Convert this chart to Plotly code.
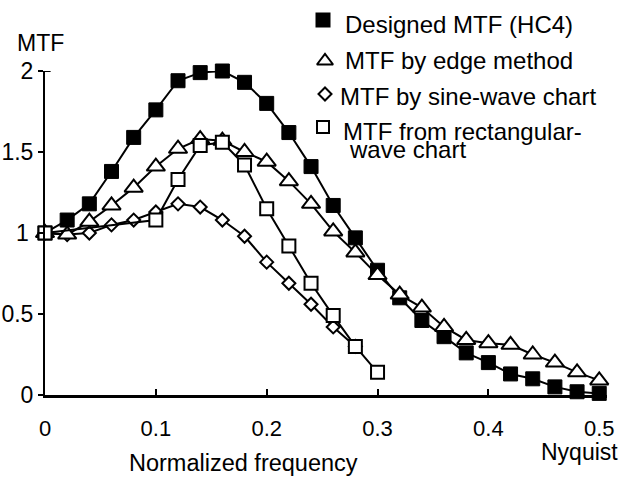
import plotly.graph_objects as go

# ---------------- data ----------------
freq_all = [0.00, 0.02, 0.04, 0.06, 0.08, 0.10, 0.12, 0.14, 0.16, 0.18, 0.20, 0.22, 0.24,
            0.26, 0.28, 0.30, 0.32, 0.34, 0.36, 0.38, 0.40, 0.42, 0.44, 0.46, 0.48, 0.50]
designed_mtf = [1.00, 1.08, 1.18, 1.38, 1.59, 1.76, 1.94, 1.99, 2.00, 1.93, 1.80, 1.62, 1.41,
                1.17, 0.97, 0.77, 0.60, 0.46, 0.36, 0.26, 0.20, 0.13, 0.10, 0.05, 0.02, 0.01]
edge_mtf = [1.00, 0.99, 1.07, 1.17, 1.28, 1.41, 1.52, 1.58, 1.57, 1.50, 1.44, 1.32, 1.18,
            1.01, 0.88, 0.74, 0.62, 0.54, 0.42, 0.34, 0.32, 0.31, 0.25, 0.20, 0.14, 0.09]
freq_sine = [0.00, 0.02, 0.04, 0.06, 0.08, 0.10, 0.12, 0.14, 0.16, 0.18, 0.20, 0.22, 0.24, 0.26, 0.28]
sine_mtf = [1.00, 0.99, 1.00, 1.05, 1.08, 1.13, 1.18, 1.16, 1.08, 0.98, 0.82, 0.69, 0.56, 0.42, 0.30]
freq_rect = [0.00, 0.10, 0.12, 0.14, 0.16, 0.18, 0.20, 0.22, 0.24, 0.26, 0.28, 0.30]
rect_mtf = [1.00, 1.08, 1.33, 1.54, 1.56, 1.42, 1.15, 0.92, 0.69, 0.49, 0.30, 0.14]

x_tickvals = [0, 0.1, 0.2, 0.3, 0.4, 0.5]
x_ticktext = ["0", "0.1", "0.2", "0.3", "0.4", "0.5"]
y_tickvals = [0, 0.5, 1, 1.5, 2]
y_ticktext = ["0", "0.5", "1\u2009", "1.5", "2"]

legend_names = ["Designed MTF (HC4)", "MTF by edge method", "MTF by sine-wave chart",
                "MTF from rectangular-", "wave chart"]

# ---------------- figure ----------------
W, H = 621, 479
FONT = "Liberation Sans, Arial, sans-serif"

def px(x):
    return x / W

def py(y):
    return 1 - y / H

fig = go.Figure()

line_style = dict(color="black", width=2)

fig.add_trace(go.Scatter(
    x=freq_all, y=designed_mtf, mode="lines+markers", line=line_style, cliponaxis=False,
    marker=dict(symbol="square", size=14, color="black", line=dict(color="black", width=1)),
    showlegend=False))
fig.add_trace(go.Scatter(
    x=freq_sine, y=sine_mtf, mode="lines+markers", line=line_style, cliponaxis=False,
    marker=dict(symbol="diamond", size=10, color="white", line=dict(color="black", width=2)),
    showlegend=False))
fig.add_trace(go.Scatter(
    x=freq_all, y=edge_mtf, mode="lines+markers", line=line_style, cliponaxis=False,
    marker=dict(symbol="triangle-up", size=16, color="white", line=dict(color="black", width=2)),
    showlegend=False))
fig.add_trace(go.Scatter(
    x=freq_rect, y=rect_mtf, mode="lines+markers", line=line_style, cliponaxis=False,
    marker=dict(symbol="square", size=13, color="white", line=dict(color="black", width=2)),
    showlegend=False))

# manual legend markers on a pixel-coordinate helper axis
leg_x = [323, 325, 325, 323]
leg_y = [20, 61, 94, 127]
leg_sym = ["square", "triangle-up", "diamond", "square"]
leg_fill = ["black", "white", "white", "white"]
leg_size = [13, 14, 10, 12]
for lx, ly, s, c, sz in zip(leg_x, leg_y, leg_sym, leg_fill, leg_size):
    fig.add_trace(go.Scatter(
        x=[lx], y=[ly], xaxis="x2", yaxis="y2", mode="markers", cliponaxis=False,
        marker=dict(symbol=s, size=sz, color=c, line=dict(color="black", width=2)),
        showlegend=False, hoverinfo="skip"))

leg_text_pos = [(343, 24), (343, 61), (338, 97), (341, 131), (347, 150)]
for (tx, ty), name in zip(leg_text_pos, legend_names):
    fig.add_annotation(x=px(tx), y=py(ty), xref="paper", yref="paper", text=name,
                       showarrow=False, xanchor="left", yanchor="middle",
                       font=dict(family=FONT, size=24, color="black"))

fig.add_annotation(x=px(40), y=py(43), xref="paper", yref="paper", text="MTF",
                   showarrow=False, xanchor="center", yanchor="middle",
                   font=dict(family=FONT, size=23, color="black"))
fig.add_annotation(x=px(243), y=py(463), xref="paper", yref="paper", text="Normalized frequency",
                   showarrow=False, xanchor="center", yanchor="middle",
                   font=dict(family=FONT, size=23.5, color="black"))
fig.add_annotation(x=px(579), y=py(452), xref="paper", yref="paper", text="Nyquist",
                   showarrow=False, xanchor="center", yanchor="middle",
                   font=dict(family=FONT, size=23, color="black"))

# small inward tick at top of y axis
fig.add_shape(type="line", xref="x domain", yref="y", x0=0, x1=0.01, y0=2, y1=2,
              line=dict(color="black", width=2))

fig.update_layout(
    width=W, height=H,
    margin=dict(l=0, r=0, t=0, b=0),
    paper_bgcolor="white", plot_bgcolor="rgba(0,0,0,0)",
    font=dict(family=FONT, color="black"),
    xaxis=dict(domain=[px(45), px(607)], range=[0, 0.507], anchor="y",
               showline=True, linewidth=2.5, linecolor="black", showgrid=False, zeroline=False,
               ticks="inside", ticklen=6, tickwidth=2, tickcolor="black",
               tickvals=x_tickvals, ticktext=x_ticktext, ticklabelstandoff=12,
               tickfont=dict(family=FONT, size=22, color="black"), automargin=False),
    yaxis=dict(domain=[py(395), py(71)], range=[0, 2], anchor="x",
               showline=True, linewidth=2, linecolor="black", showgrid=False, zeroline=False,
               ticks="outside", ticklen=5, tickwidth=2, tickcolor="black",
               tickvals=y_tickvals, ticktext=y_ticktext,
               tickfont=dict(family=FONT, size=23, color="black"), automargin=False),
    xaxis2=dict(domain=[0, 1], range=[0, W], anchor="y2", visible=False, fixedrange=True),
    yaxis2=dict(domain=[0, 1], range=[H, 0], anchor="x2", visible=False, fixedrange=True),
)

fig.write_html("out.html")
